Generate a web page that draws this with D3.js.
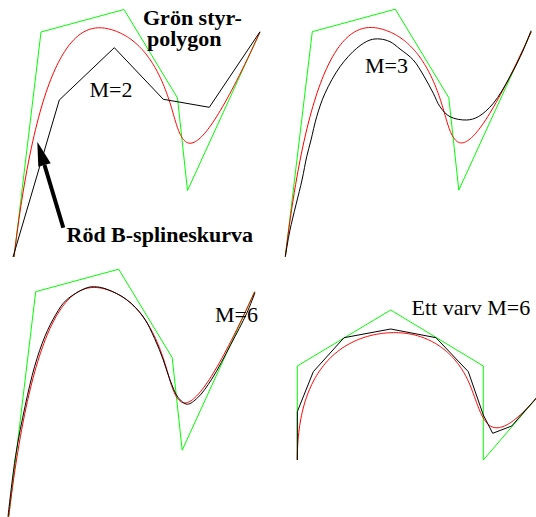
<!DOCTYPE html>
<html>
<head>
<meta charset="utf-8">
<script src="https://cdn.jsdelivr.net/npm/d3@7"></script>
<style>
body{margin:0;background:#fff;}
svg text{font-family:"Liberation Serif","Times New Roman",serif;font-size:22px;fill:#000;}
svg text.bold{font-weight:bold;}
</style>
</head>
<body>
<script>
// DATA (local units, y up, origin at first control point)

// green control polygon, same for the three "wave" panels
const ctrlWave = [[0,0],[27,225],[110,247.5],[163.5,159],[173.5,66.5],[246,225]];
// green control polygon for the "one turn" panel
const ctrlLoop = [[0,0],[0,94],[93.4,150],[186,94],[186,0],[241,64]];

// black approximations
const approxM2 = [[-1,0],[45.3,157],[100.3,209.3],[149.3,157.7],[195.3,149.7],[246,225.3]];
const approxM3 = [[0,0],[4.7,26.7],[16.7,76.7],[21.4,100],[25.7,116.7],[31.4,140],[39.7,163.4],
  [54.7,190],[71.4,208.4],[84.7,216.7],[94.7,217.7],[104.7,215],[114.7,207.7],[128,196.7],
  [138,181.7],[148,163.4],[154.7,150],[164.7,140],[181.4,136.7],[193,140],[208,153.4],
  [224.7,180],[238,206.7],[245.7,226]];
const approxM6 = [[-0.7,0],[7,61.5],[16.5,111],[26,150.5],[36.3,180.5],[47,202],[57.5,216.5],
  [78.5,229],[88,229.8],[98,227.5],[118,217],[134.5,200],[146,178],[154.6,156.7],[161.3,136.7],
  [169.6,119],[178.6,112.5],[189,119],[203,137.5],[222,172],[238,203.4],[246.3,224]];
const approxLoop = [[0,0],[0,48.3],[16,88.3],[46.7,122.3],[93.4,131],[138.7,122.3],
  [171,88.3],[186,45],[195.4,26.7],[214.4,34],[238.7,61.7],[241,64]];

// labels
const labelTexts = ['M=2','M=3','M=6','Ett varv M=6'];
const noteTexts = ['Grön styr-','polygon','Röd B-splineskurva'];

// LAYOUT
const width = 536, height = 517;
const panels = [
  {origin:[14,257],     ctrl:ctrlWave, approx:approxM2,  smooth:false, label:[89.5,97]},
  {origin:[285.3,256.7],ctrl:ctrlWave, approx:approxM3,  smooth:true,  label:[365,73]},
  {origin:[8.7,516.7],  ctrl:ctrlWave, approx:approxM6,  smooth:true,  label:[215,322]},
  {origin:[297.3,460],  ctrl:ctrlLoop, approx:approxLoop,smooth:false, label:[411.5,315]}
];
const notePos = [[143,25],[147,46],[66.5,242]];
// arrow: tail, tip, head corners
const arrowPts = {tail:[63.3,227.7], tip:[37.3,141.7], c1:[38.3,166.7], c2:[50.7,163.3]};

// clamped (open uniform) cubic B-spline through de Boor
function clampedBSpline(pts, samples){
  const n = pts.length, p = 3;
  const knots = [];
  for(let i=0;i<=n+p;i++) knots.push(Math.min(Math.max(i-p,0), n-p));
  const tMax = n-p, out = [];
  for(let s=0;s<=samples;s++){
    const t = tMax*s/samples;
    let k = p;
    while(k < n-1 && t >= knots[k+1]) k++;
    const d = [];
    for(let j=0;j<=p;j++) d.push(pts[k-p+j].slice());
    for(let r=1;r<=p;r++){
      for(let j=p;j>=r;j--){
        const i = k-p+j;
        const a = (t-knots[i])/(knots[i+p-r+1]-knots[i]);
        d[j] = [(1-a)*d[j-1][0]+a*d[j][0], (1-a)*d[j-1][1]+a*d[j][1]];
      }
    }
    out.push(d[p]);
  }
  return out;
}

const svg = d3.select('body').append('svg')
  .attr('width',width).attr('height',height);

panels.forEach(function(pn,idx){
  const x = d3.scaleLinear().domain([0,250]).range([pn.origin[0], pn.origin[0]+250]);
  const y = d3.scaleLinear().domain([0,250]).range([pn.origin[1], pn.origin[1]-250]);
  const g = svg.append('g').attr('class','panel');
  const line = d3.line().x(d=>x(d[0])).y(d=>y(d[1]));
  // green control polygon
  g.append('path').attr('d',line(pn.ctrl))
    .attr('fill','none').attr('stroke','#00ff00').attr('stroke-width',1);
  // red B-spline
  g.append('path').attr('d',line(clampedBSpline(pn.ctrl,200)))
    .attr('fill','none').attr('stroke','#ff0000').attr('stroke-width',1);
  // black approximation
  const bl = pn.smooth ? line.curve(d3.curveCatmullRom) : line.curve(d3.curveLinear);
  g.append('path').attr('d',bl(pn.approx))
    .attr('fill','none').attr('stroke','#000').attr('stroke-width',1);
  g.append('text').attr('x',pn.label[0]).attr('y',pn.label[1])
    .attr('font-family','Liberation Serif, Times New Roman, serif').text(labelTexts[idx]);
});

// notes and arrow
svg.selectAll('text.bold').data(noteTexts).enter().append('text')
  .attr('class','bold').attr('font-family','Liberation Serif, Times New Roman, serif')
  .attr('x',(d,i)=>notePos[i][0]).attr('y',(d,i)=>notePos[i][1]).text(d=>d);
const mid = [(arrowPts.c1[0]+arrowPts.c2[0])/2, (arrowPts.c1[1]+arrowPts.c2[1])/2];
svg.append('line').attr('x1',arrowPts.tail[0]).attr('y1',arrowPts.tail[1])
  .attr('x2',mid[0]).attr('y2',mid[1]).attr('stroke','#000').attr('stroke-width',4);
svg.append('path').attr('d',d3.line()([arrowPts.tip,arrowPts.c1,arrowPts.c2])+'Z').attr('fill','#000');
</script>
</body>
</html>
